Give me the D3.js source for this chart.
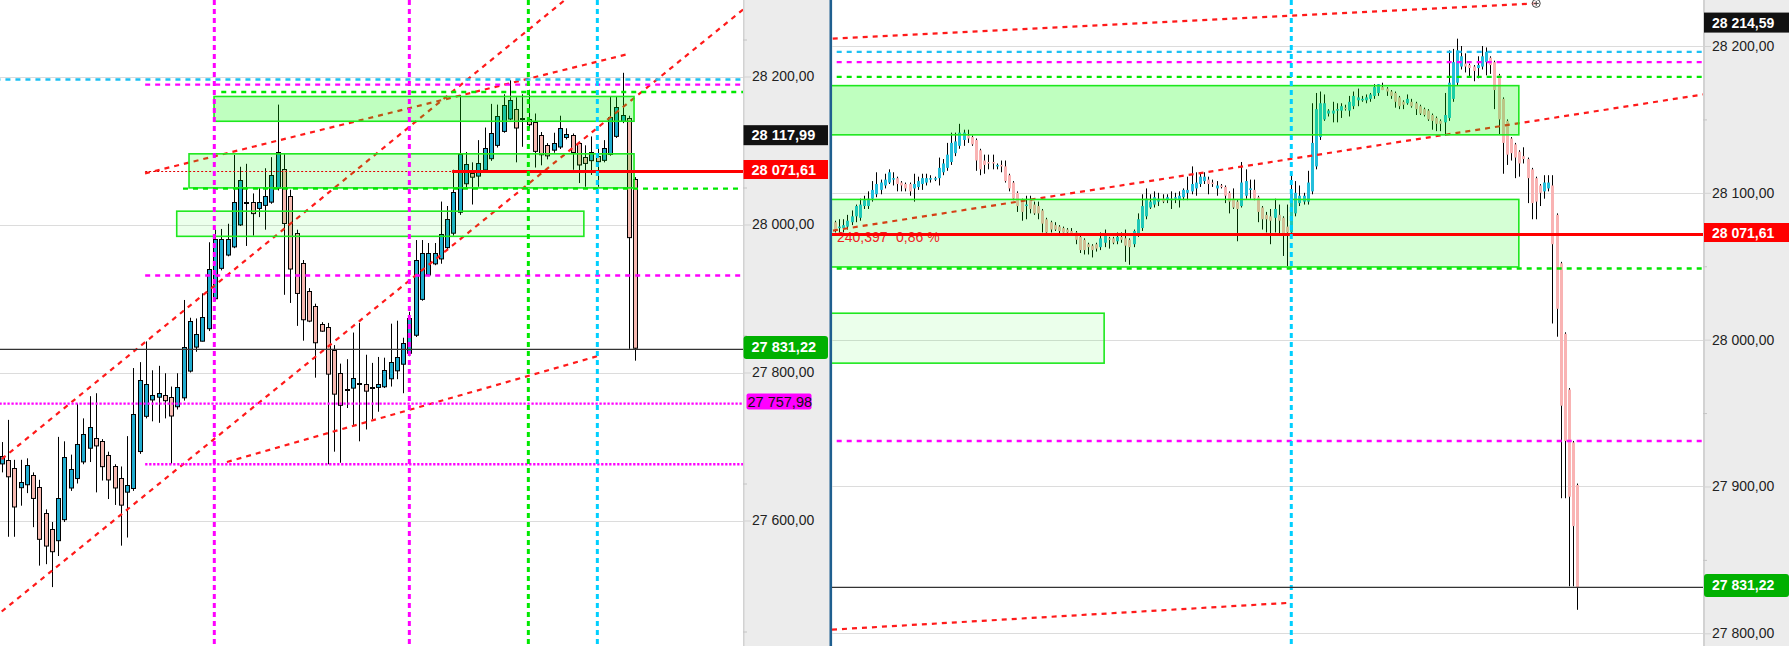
<!DOCTYPE html>
<html>
<head>
<meta charset="utf-8">
<script src="https://cdn.jsdelivr.net/npm/d3@7/dist/d3.min.js"></script>
<style>
html,body{margin:0;padding:0;background:#fff;overflow:hidden;}
svg{display:block;}
text{font-family:"Liberation Sans",Arial,Helvetica,sans-serif;}
</style>
</head>
<body>
<svg id="chart" width="1789" height="646"></svg>
<script>
// ---------------- DATA ----------------
// left panel candles [open, high, low, close]
const leftCandles = [
[27677,27706,27665,27687],[27682,27736,27578,27660],[27671,27682,27578,27619],[27645,27682,27620,27652],
[27649,27684,27637,27675],[27661,27665,27591,27630],[27645,27655,27539,27575],[27610,27615,27541,27566],
[27588,27598,27510,27558],[27573,27713,27552,27630],[27602,27707,27598,27686],[27644,27689,27640,27669],
[27657,27758,27650,27703],[27680,27738,27676,27717],[27698,27768,27679,27726],[27712,27772,27638,27702],
[27707,27710,27654,27673],[27689,27693,27629,27656],[27673,27676,27621,27644],[27658,27673,27566,27622],
[27639,27714,27577,27648],[27644,27806,27640,27744],[27694,27814,27690,27790],[27742,27842,27738,27785],
[27763,27803,27734,27769],[27767,27809,27732,27772],[27769,27799,27738,27762],[27767,27781,27677,27742],
[27754,27799,27750,27780],[27767,27898,27762,27835],[27802,27874,27800,27869],[27835,27873,27828,27852],
[27843,27907,27842,27875],[27860,27976,27856,27940],[27900,27993,27897,27980],[27941,27994,27938,27980],
[27960,28001,27957,27981],[27971,28094,27968,28031],[28000,28078,27998,28060],[28030,28082,27971,28030],
[28030,28042,27985,28015],[28022,28050,28010,28030],[28026,28076,27993,28038],[28031,28091,28028,28067],
[28050,28162,28046,28098],[28075,28095,27905,28002],[28038,28047,27894,27940],[27988,27993,27863,27907],
[27948,27952,27843,27872],[27910,27914,27868,27870],[27890,27893,27793,27841],[27866,27868,27855,27857],
[27861,27867,27676,27798],[27830,27837,27693,27771],[27800,27812,27678,27757],[27778,27818,27752,27778],
[27779,27854,27729,27792],[27786,27867,27707,27786],[27785,27824,27723,27776],[27780,27813,27737,27780],
[27780,27821,27747,27784],[27781,27820,27779,27803],[27792,27866,27781,27814],[27803,27870,27791,27821],
[27812,27847,27772,27840],[27826,27882,27822,27873],[27851,27979,27848,27952],[27900,27979,27897,27962],
[27933,27975,27930,27962],[27948,27975,27945,27962],[27954,28031,27947,27987],[27970,28025,27966,28008],
[27989,28074,27985,28044],[28017,28175,28013,28095],[28056,28098,28050,28082],[28069,28084,28027,28064],
[28066,28114,28051,28083],[28075,28131,28071,28104],[28089,28163,28086,28123],[28107,28162,28104,28146],
[28126,28176,28124,28161],[28143,28195,28141,28168],[28156,28172,28084,28131],[28144,28176,28105,28144],
[28142,28182,28130,28135],[28139,28150,28077,28100],[28121,28125,28080,28095],[28108,28110,28088,28094],
[28101,28124,28097,28110],[28105,28147,28102,28130],[28118,28130,28115,28122],[28121,28123,28074,28098],
[28110,28112,28056,28081],[28091,28107,28051,28083],[28087,28119,28067,28098],[28092,28103,28051,28085],
[28087,28114,28084,28103],[28095,28173,28093,28145],[28120,28173,28117,28159],[28140,28205,28137,28148],
[28144,28147,27832,27983],[28062,28064,27816,27834]
];

// right panel candles [open, high, low, close]
const rightCandles = [
[28080,28081,28073,28075],[28076,28082,28073,28077],[28076,28082,28073,28078],[28077,28085,28075,28081],
[28080,28088,28078,28084],[28084,28092,28080,28091],[28083,28096,28081,28092],[28091,28098,28089,28095],
[28091,28101,28089,28096],[28096,28108,28094,28102],[28099,28114,28097,28106],[28102,28109,28099,28107],
[28105,28113,28103,28109],[28107,28116,28106,28114],[28110,28114,28105,28110],[28110,28111,28101,28106],
[28107,28108,28101,28105],[28106,28107,28101,28103],[28106,28107,28098,28101],[28103,28113,28094,28106],
[28104,28111,28102,28108],[28106,28113,28102,28110],[28107,28113,28105,28110],[28109,28112,28107,28110],
[28109,28111,28108,28110],[28110,28124,28105,28117],[28114,28123,28112,28120],[28117,28134,28115,28126],
[28121,28141,28119,28134],[28127,28141,28125,28135],[28132,28147,28130,28141],[28136,28143,28132,28141],
[28139,28143,28134,28137],[28138,28139,28132,28133],[28136,28137,28115,28122],[28129,28130,28112,28116],
[28122,28126,28113,28119],[28121,28126,28116,28120],[28121,28126,28116,28120],[28118,28120,28116,28119],
[28119,28122,28114,28118],[28118,28122,28107,28108],[28112,28113,28101,28103],[28107,28108,28095,28096],
[28100,28101,28087,28091],[28095,28096,28081,28087],[28092,28098,28082,28092],[28095,28098,28086,28089],
[28092,28094,28085,28086],[28091,28094,28082,28086],[28088,28089,28073,28079],[28082,28083,28072,28073],
[28080,28081,28073,28075],[28078,28080,28074,28075],[28077,28078,28072,28074],[28076,28077,28073,28073],
[28075,28076,28072,28073],[28074,28076,28071,28072],[28073,28074,28065,28068],[28070,28071,28059,28061],
[28068,28069,28058,28061],[28065,28066,28058,28063],[28064,28065,28056,28061],[28065,28066,28060,28062],
[28063,28073,28061,28069],[28066,28075,28063,28071],[28069,28070,28062,28068],[28069,28070,28065,28066],
[28067,28073,28065,28070],[28070,28073,28066,28068],[28069,28075,28053,28064],[28068,28069,28051,28063],
[28065,28075,28063,28074],[28072,28086,28070,28082],[28076,28099,28074,28091],[28084,28103,28082,28096],
[28090,28099,28089,28094],[28092,28101,28090,28097],[28094,28100,28091,28096],[28096,28099,28093,28094],
[28095,28099,28093,28097],[28096,28101,28089,28096],[28096,28100,28093,28097],[28095,28101,28090,28098],
[28097,28103,28095,28102],[28100,28111,28095,28102],[28101,28118,28099,28106],[28103,28114,28098,28107],
[28106,28114,28104,28111],[28108,28114,28106,28111],[28109,28111,28099,28106],[28107,28109,28104,28106],
[28103,28108,28098,28105],[28105,28106,28103,28104],[28104,28105,28093,28098],[28100,28101,28086,28094],
[28096,28103,28089,28090],[28094,28095,28067,28089],[28091,28121,28090,28107],[28098,28116,28096,28108],
[28103,28109,28096,28103],[28102,28109,28095,28096],[28097,28098,28080,28087],[28090,28091,28075,28082],
[28085,28087,28073,28082],[28084,28089,28065,28081],[28083,28096,28073,28089],[28085,28092,28072,28081],
[28083,28084,28057,28072],[28077,28092,28050,28073],[28073,28113,28070,28100],[28086,28108,28084,28100],
[28093,28105,28091,28098],[28094,28100,28092,28098],[28094,28115,28092,28107],[28101,28161,28099,28134],
[28118,28168,28116,28157],[28138,28169,28136,28161],[28150,28167,28149,28161],[28154,28157,28152,28156],
[28154,28162,28148,28156],[28157,28161,28148,28157],[28156,28161,28151,28159],[28158,28160,28156,28157],
[28156,28166,28152,28162],[28159,28169,28157,28166],[28163,28171,28159,28165],[28164,28166,28162,28164],
[28163,28167,28161,28165],[28164,28168,28162,28167],[28166,28174,28164,28172],[28168,28174,28166,28174],
[28172,28175,28170,28170],[28171,28172,28166,28169],[28169,28170,28164,28166],[28168,28169,28158,28162],
[28165,28166,28157,28159],[28162,28163,28157,28160],[28161,28167,28160,28164],[28162,28164,28158,28159],
[28161,28162,28153,28157],[28159,28160,28153,28154],[28157,28158,28152,28153],[28156,28157,28149,28150],
[28153,28154,28143,28149],[28151,28152,28142,28147],[28149,28150,28142,28147],[28148,28168,28139,28153],
[28151,28197,28149,28175],[28164,28198,28162,28189],[28175,28205,28173,28197],[28186,28200,28184,28193],
[28188,28195,28182,28186],[28187,28188,28179,28185],[28186,28187,28176,28183],[28185,28193,28178,28187],
[28186,28200,28184,28193],[28189,28199,28180,28196],[28192,28193,28181,28187],[28189,28190,28157,28170],
[28180,28181,28140,28150],[28164,28165,28113,28134],[28149,28150,28119,28126],[28137,28138,28122,28127],
[28133,28134,28110,28124],[28128,28129,28111,28120],[28125,28131,28120,28123],[28123,28124,28093,28110],
[28116,28117,28082,28093],[28110,28111,28082,28094],[28105,28106,28091,28100],[28101,28112,28096,28107],
[28103,28112,28101,28107],[28105,28112,28011,28065],[28085,28086,28002,28021],[28052,28053,27892,27955],
[28004,28005,27892,27931],[27966,27967,27832,27893],[27930,27931,27832,27873],[27901,27902,27816,27831]
];

// axis ticks
const leftTicks = [27600, 27800, 28000, 28200];
const leftMinorTicks = [27450, 27650, 27850, 28050, 28250];
const rightTicks = [27800, 27900, 28000, 28100, 28200];
const rightMinorTicks = [27850, 27950, 28050, 28150];

// horizontal levels
const levelNames  = ["cyanTop", "magentaTop", "greenTop", "greenBottom", "magentaMid", "magentaDot1", "magentaDot2"];
const levelValues = [28196, 28189, 28179, 28048.5, 27931, 27757.98, 27676];
const leftLevelStart = [-1, 22.87, 35, 28.9, 22.87, -1, 22.87];   // bar index where the level starts (left panel)

// zones
const zoneNames = ["upper", "middle", "lower"];
const zoneLow  = [28139.5, 28049.5, 27984];
const zoneHigh = [28173, 28095.5, 28018];
const leftZoneStart = [33.85, 29.86, 27.9];
const leftZoneEnd   = [100.8, 100.8, 92.8];
const rightZoneEnd  = [164.9, 164.9, 64.9];

const keyLevel = 28071.61;
const keyLevelLeftFrom = [22.87, 71.8];   // dotted from / solid from (bar index)
const lastPrice = 27831.22;

// trend lines [barIndex1, price1, barIndex2, price2]
const leftTrendlines = [[0,27683,100,28374],[0,27477,120,28303],[22.85,28069,99.7,28230],[35.9,27679,94.9,27822]];
const rightTrendlines = [[-0.55,28205,169.1,28229],[-0.48,28074.3,209.3,28167],[-0.72,27802.5,109.2,27820.7]];

// vertical markers (bar index)
const leftMarkers = [33.89, 64.98, 83.95, 94.95];
const leftMarkerKinds = ["magenta", "magenta", "green", "cyan"];
const rightMarkers = [110.03];
const rightMarkerKinds = ["cyan"];

// price badges
const leftBadges = [28117.99, 28071.61, 27831.22, 27757.98];
const leftBadgeKinds = ["black", "red", "green", "magenta"];
const rightBadges = [28214.59, 28071.61, 27831.22];
const rightBadgeKinds = ["black", "red", "green"];

const moveLabel = ["240,397", "0,86 %"];

// ---------------- DRAWING ----------------
const W = 1789, H = 646;
const LP = {x0: 0, x1: 743};
const RP = {x0: 832, x1: 1703};

const fmt = d3.formatLocale({decimal: ",", thousands: " ", grouping: [3], currency: ["", ""]}).format(",.2f");

const yL = d3.scaleLinear().domain([27600, 28200]).range([520.5, 76.5]);
const yR = d3.scaleLinear().domain([27800, 28200]).range([633.3, 46]);
const xL = d3.scaleLinear().domain([0, 101]).range([1.7, 635.3]);
const xR = d3.scaleLinear().domain([0, 179]).range([835, 1577.3]);

const svg = d3.select("#chart");
const defs = svg.append("defs");
defs.append("clipPath").attr("id", "clipL").append("rect")
  .attr("x", LP.x0).attr("y", 0).attr("width", LP.x1 - LP.x0).attr("height", H);
defs.append("clipPath").attr("id", "clipR").append("rect")
  .attr("x", RP.x0).attr("y", 0).attr("width", RP.x1 - RP.x0).attr("height", H);

svg.append("rect").attr("width", W).attr("height", H).attr("fill", "#fff");
svg.append("rect").attr("x", 743).attr("y", 0).attr("width", 87).attr("height", H).attr("fill", "#ececec");
svg.append("rect").attr("x", 1703).attr("y", 0).attr("width", 86).attr("height", H).attr("fill", "#ececec");
svg.append("line").attr("x1", 743.75).attr("x2", 743.75).attr("y1", 0).attr("y2", H).attr("stroke", "#d2d2d2").attr("stroke-width", 1.5);
svg.append("line").attr("x1", 1704).attr("x2", 1704).attr("y1", 0).attr("y2", H).attr("stroke", "#d2d2d2").attr("stroke-width", 2);
svg.append("rect").attr("x", 829.5).attr("y", 0).attr("width", 2.6).attr("height", H).attr("fill", "#1f5f8f");

const colors = {
  cyanTop: "#1ec0f2", magenta: "#ff00ff", green: "#00e800", cyan: "#00cfff", red: "#ff0000",
  upL: "#1fabcf", downL: "#f6b9b1", upR: "#24bedb", downR: "#f9b3b3"
};
const levelStyle = {
  cyanTop:     {stroke: "#1ec0f2", w: 2.4, dash: "5,5"},
  magentaTop:  {stroke: "#ff00ff", w: 2.4, dash: "5,5"},
  greenTop:    {stroke: "#00e800", w: 2.4, dash: "5,5"},
  greenBottom: {stroke: "#00e800", w: 2.4, dash: "5,5"},
  magentaMid:  {stroke: "#ff00ff", w: 2.4, dash: "5,5"},
  magentaDot1: {stroke: "#ff00ff", w: 2.4, dash: "2.3,1.7"},
  magentaDot2: {stroke: "#ff00ff", w: 2.4, dash: "2.3,1.7"}
};
const zoneOpacity = {upper: 0.25, middle: 0.165, lower: 0.08};
const markerColor = {magenta: "#ff00ff", green: "#00e800", cyan: "#00cfff"};

function drawAxis(y, ax, ticks, minor) {
  const g = svg.append("g").attr("transform", `translate(${ax},0)`);
  const axis = d3.axisRight(y).tickValues(ticks).tickFormat(fmt).tickSize(8).tickPadding(1);
  g.call(axis);
  g.select(".domain").remove();
  g.selectAll(".tick line").attr("stroke", "#d2d2d2");
  g.selectAll(".tick text").attr("fill", "#222").attr("font-size", 14)
    .attr("font-family", '"Liberation Sans", Arial, sans-serif');
  const gm = svg.append("g").attr("transform", `translate(${ax},0)`);
  gm.call(d3.axisRight(y).tickValues(minor).tickFormat("").tickSize(4));
  gm.select(".domain").remove();
  gm.selectAll(".tick line").attr("stroke", "#c4c4c4");
}

function drawPanel(o) {
  const {x, y, P, clip, candles, ticks, bodyW, outline, up, down} = o;
  const g = svg.append("g").attr("clip-path", `url(#${clip})`);
  // grid
  g.selectAll("line.grid").data(ticks).join("line").attr("class", "grid")
    .attr("x1", P.x0).attr("x2", P.x1)
    .attr("y1", d => Math.round(y(d)) + 0.5).attr("y2", d => Math.round(y(d)) + 0.5)
    .attr("stroke", "#dcdcdc").attr("stroke-width", 1);
  // candles
  const cx = i => Math.round(x(i)) + 0.5;
  const cg = g.append("g");
  cg.selectAll("line.wick").data(candles).join("line").attr("class", "wick")
    .attr("x1", (d, i) => cx(i)).attr("x2", (d, i) => cx(i))
    .attr("y1", d => y(d[1])).attr("y2", d => y(d[2]))
    .attr("stroke", "#000").attr("stroke-width", 1);
  cg.selectAll("rect.body").data(candles).join("rect").attr("class", "body")
    .attr("x", (d, i) => cx(i) - bodyW / 2)
    .attr("width", bodyW)
    .attr("y", d => {
      const t = Math.min(y(d[0]), y(d[3]));
      return outline ? Math.round(t) + 0.5 : t;
    })
    .attr("height", d => Math.max(outline ? 1 : 1.5, Math.abs(y(d[0]) - y(d[3]))))
    .attr("fill", d => d[3] > d[0] ? up : (d[3] < d[0] ? down : (outline ? "#000" : up)))
    .attr("stroke", outline ? "#000" : "none")
    .attr("stroke-width", outline ? 1 : 0);
  return g;
}

function trend(g, x, y, lines) {
  g.selectAll(null).data(lines).join("line")
    .attr("x1", d => x(d[0])).attr("y1", d => y(d[1]))
    .attr("x2", d => x(d[2])).attr("y2", d => y(d[3]))
    .attr("stroke", "#ff1a1a").attr("stroke-width", 2.2).attr("stroke-dasharray", "5,5");
}

function zones(g, x, y, starts, ends) {
  zoneNames.forEach((n, k) => {
    const x0 = x(starts[k]), x1 = x(ends[k]);
    const yt = y(zoneHigh[k]), yb = y(zoneLow[k]);
    g.append("rect").attr("x", x0).attr("y", yt).attr("width", x1 - x0).attr("height", yb - yt)
      .attr("fill", "#00ff00").attr("fill-opacity", zoneOpacity[n])
      .attr("stroke", "#1ee81e").attr("stroke-width", 1.6);
  });
}

function levels(g, x, y, starts, xEnd) {
  levelNames.forEach((n, k) => {
    const s = levelStyle[n];
    const yy = y(levelValues[k]);
    g.append("line").attr("x1", x(starts[k])).attr("x2", xEnd).attr("y1", yy).attr("y2", yy)
      .attr("stroke", s.stroke).attr("stroke-width", s.w).attr("stroke-dasharray", s.dash);
  });
}

function markers(g, x, vals, kinds) {
  vals.forEach((v, k) => {
    const xx = x(v);
    g.append("line").attr("x1", xx).attr("x2", xx).attr("y1", 0).attr("y2", H)
      .attr("stroke", markerColor[kinds[k]]).attr("stroke-width", 3).attr("stroke-dasharray", "5,4");
  });
}

function badge(x0, x1, yc, kind, v, fontSize) {
  const spec = {
    black:   {fill: "#111", text: "#fff", h: 20, bold: true, rx: 0, dx: 0},
    red:     {fill: "#ff0000", text: "#fff", h: 19, bold: true, rx: 0, dx: 0},
    green:   {fill: "#00b000", text: "#fff", h: 23, bold: true, rx: 3, dx: 0},
    magenta: {fill: "#ff00ff", text: "#111", h: 16, bold: false, rx: 2, dx: 3}
  }[kind];
  const bx0 = x0 + spec.dx, bx1 = kind === "magenta" ? x0 + 68 : x1;
  svg.append("rect").attr("x", bx0).attr("y", yc - spec.h / 2).attr("width", bx1 - bx0).attr("height", spec.h)
    .attr("fill", spec.fill).attr("rx", spec.rx);
  svg.append("text").attr("x", kind === "magenta" ? bx0 + 1 : x0 + 8).attr("y", yc + 5)
    .attr("fill", spec.text).attr("font-size", fontSize).attr("font-weight", spec.bold ? "bold" : "normal")
    .text(fmt(v));
}

// ---- left panel ----
const gL = drawPanel({x: xL, y: yL, P: LP, clip: "clipL", candles: leftCandles, ticks: leftTicks,
  bodyW: 4, outline: true, up: colors.upL, down: colors.downL});
trend(gL, xL, yL, leftTrendlines);
zones(gL, xL, yL, leftZoneStart, leftZoneEnd);
levels(gL, xL, yL, leftLevelStart, LP.x1);
// key level: dotted then solid
gL.append("line").attr("x1", xL(keyLevelLeftFrom[0])).attr("x2", xL(keyLevelLeftFrom[1]))
  .attr("y1", yL(keyLevel)).attr("y2", yL(keyLevel))
  .attr("stroke", "#e00000").attr("stroke-width", 1).attr("stroke-dasharray", "2,2");
gL.append("line").attr("x1", xL(keyLevelLeftFrom[1])).attr("x2", LP.x1)
  .attr("y1", yL(keyLevel)).attr("y2", yL(keyLevel))
  .attr("stroke", colors.red).attr("stroke-width", 3.2);
markers(gL, xL, leftMarkers, leftMarkerKinds);
gL.append("line").attr("x1", LP.x0).attr("x2", LP.x1).attr("y1", yL(lastPrice)).attr("y2", yL(lastPrice))
  .attr("stroke", "#333").attr("stroke-width", 1.3);

// ---- right panel ----
const gR = drawPanel({x: xR, y: yR, P: RP, clip: "clipR", candles: rightCandles, ticks: rightTicks,
  bodyW: 3, outline: false, up: colors.upR, down: colors.downR});
trend(gR, xR, yR, rightTrendlines);
zones(gR, xR, yR, [-2, -2, -2], rightZoneEnd);
gR.append("text").attr("x", 837).attr("y", 242).attr("fill", "#ee2222").attr("font-size", 14).text(moveLabel[0]);
gR.append("text").attr("x", 896).attr("y", 242).attr("fill", "#ee2222").attr("font-size", 14).text(moveLabel[1]);
levels(gR, xR, yR, levelNames.map(() => -2), RP.x1);
gR.append("line").attr("x1", RP.x0).attr("x2", RP.x1).attr("y1", yR(keyLevel)).attr("y2", yR(keyLevel))
  .attr("stroke", colors.red).attr("stroke-width", 3.2);
markers(gR, xR, rightMarkers, rightMarkerKinds);
gR.append("line").attr("x1", RP.x0).attr("x2", RP.x1).attr("y1", yR(lastPrice)).attr("y2", yR(lastPrice))
  .attr("stroke", "#333").attr("stroke-width", 1.3);
// anchor handle at end of top trend line
{
  const t = rightTrendlines[0];
  const ax = xR(t[2]), ay = yR(t[3]);
  gR.append("circle").attr("cx", ax).attr("cy", ay).attr("r", 4).attr("fill", "#fff").attr("fill-opacity", 0.6)
    .attr("stroke", "#444").attr("stroke-width", 1);
  gR.append("line").attr("x1", ax - 2.5).attr("x2", ax + 2.5).attr("y1", ay).attr("y2", ay).attr("stroke", "#444");
  gR.append("line").attr("x1", ax).attr("x2", ax).attr("y1", ay - 2.5).attr("y2", ay + 2.5).attr("stroke", "#444");
}

// ---- axes ----
drawAxis(yL, 743, leftTicks, leftMinorTicks);
drawAxis(yR, 1703, rightTicks, rightMinorTicks);
svg.selectAll(".tick text").attr("x", 9);

leftBadges.forEach((v, k) => badge(743.5, 828, yL(v) - 2, leftBadgeKinds[k], v, 14.5));
rightBadges.forEach((v, k) => badge(1704, 1789, yR(v) - 2, rightBadgeKinds[k], v, 14));
</script>
</body>
</html>
